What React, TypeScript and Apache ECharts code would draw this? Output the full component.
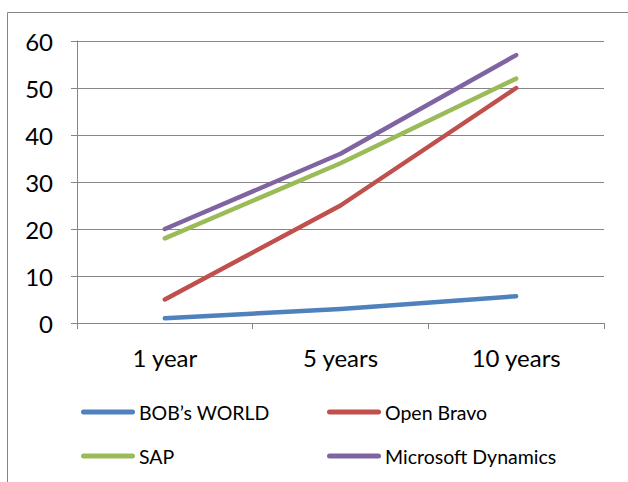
import React, { useEffect, useRef } from "react";
import * as echarts from "echarts";

const categories = ["1 year", "5 years", "10 years"];
const seriesNames = ["BOB\u2019s WORLD", "Open Bravo", "SAP", "Microsoft Dynamics"];
const bobsWorld = [1, 3, 5.7];
const openBravo = [5, 25, 50];
const sap = [18, 34, 52];
const microsoftDynamics = [20, 36, 57];
const colors = ["#4f81bd", "#c0504d", "#9bbb59", "#8064a2"];

const FONT = "Lato, 'Open Sans', sans-serif";
const capsule = "path://M2.5,0 L51.5,0 A2.5,2.5 0 0 1 51.5,5 L2.5,5 A2.5,2.5 0 0 1 2.5,0 Z";

export default function App() {
  const ref = useRef<HTMLDivElement>(null);
  useEffect(() => {
    document.body.style.margin = "0";
    const chart = echarts.init(ref.current!, null, { renderer: "svg" });
    const values = [bobsWorld, openBravo, sap, microsoftDynamics];
    const legendPos = [
      { left: 81, top: 402 },
      { left: 327, top: 402 },
      { left: 81, top: 446 },
      { left: 327, top: 446 },
    ];
    chart.setOption({
      animation: false,
      color: colors,
      graphic: [
        {
          type: "rect",
          shape: { x: 7.5, y: 12.5, width: 700, height: 600 },
          style: { fill: "none", stroke: "#868686", lineWidth: 1 },
          silent: true,
        },
      ],
      grid: { left: 77, right: 24, top: 41, bottom: 159 },
      legend: seriesNames.map((n, i) => ({
        data: [{ name: n, icon: capsule }],
        left: legendPos[i].left,
        top: legendPos[i].top,
        itemWidth: 56,
        itemHeight: 5,
        itemGap: 0,
        selectedMode: false,
        textStyle: { fontFamily: FONT, fontSize: 19.5, color: "#000", padding: [0, 0, 0, -2] },
        padding: 0,
      })),
      xAxis: {
        type: "category",
        data: categories,
        boundaryGap: true,
        axisLine: { lineStyle: { color: "#868686", width: 1 } },
        axisTick: { show: true, length: 6, alignWithLabel: false, lineStyle: { color: "#868686" } },
        axisLabel: { fontFamily: FONT, fontSize: 24, color: "#000", margin: 22 },
      },
      yAxis: {
        type: "value",
        min: 0,
        max: 60,
        interval: 10,
        axisLine: { show: true, lineStyle: { color: "#868686", width: 1 } },
        axisTick: { show: true, length: 6, lineStyle: { color: "#868686" } },
        splitLine: { lineStyle: { color: "#868686", width: 1 } },
        axisLabel: { fontFamily: FONT, fontSize: 24, color: "#000", margin: 24 },
      },
      series: seriesNames.map((n, i) => ({
        name: n,
        type: "line",
        data: values[i],
        symbol: "none",
        lineStyle: { width: 4.5, cap: "round", join: "round", color: colors[i] },
        itemStyle: { color: colors[i] },
      })),
    });
    return () => chart.dispose();
  }, []);
  return <div ref={ref} style={{ width: 628, height: 482 }} />;
}
